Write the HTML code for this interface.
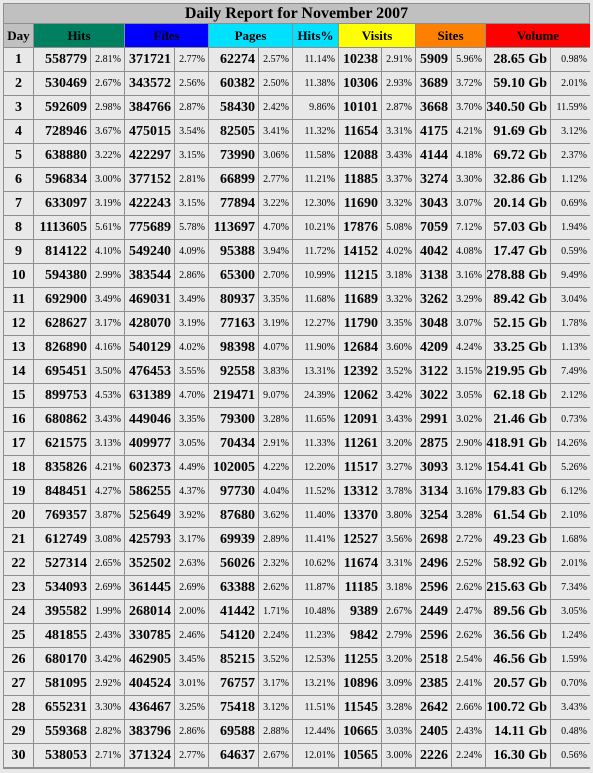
<!DOCTYPE html>
<html><head><meta charset="utf-8">
<style>
html,body{margin:0;padding:0;background:#e8e8e8;}
#wrap{position:relative;width:593px;height:773px;overflow:hidden;font-family:"Liberation Serif",serif;}
#grid{position:absolute;left:3px;top:3px;width:587px;height:766px;background:#8e8e8e;}
.c{position:absolute;box-sizing:border-box;background:#e8e8e8;color:#000;white-space:nowrap;overflow:hidden;}
.n{font-weight:bold;font-size:14px;text-align:right;padding-right:3px;}
.p{font-size:10px;text-align:right;padding-right:3px;}
.d{font-weight:bold;font-size:14px;text-align:center;}
.h{font-weight:bold;font-size:13px;text-align:center;}
</style></head><body>
<div id="wrap">
<div id="grid"></div>
</div>
<script>
const hits=[558779,530469,592609,728946,638880,596834,633097,1113605,814122,594380,692900,628627,826890,695451,899753,680862,621575,835826,848451,769357,612749,527314,534093,395582,481855,680170,581095,655231,559368,538053];
const hitsPct=["2.81%","2.67%","2.98%","3.67%","3.22%","3.00%","3.19%","5.61%","4.10%","2.99%","3.49%","3.17%","4.16%","3.50%","4.53%","3.43%","3.13%","4.21%","4.27%","3.87%","3.08%","2.65%","2.69%","1.99%","2.43%","3.42%","2.92%","3.30%","2.82%","2.71%"];
const files=[371721,343572,384766,475015,422297,377152,422243,775689,549240,383544,469031,428070,540129,476453,631389,449046,409977,602373,586255,525649,425793,352502,361445,268014,330785,462905,404524,436467,383796,371324];
const filesPct=["2.77%","2.56%","2.87%","3.54%","3.15%","2.81%","3.15%","5.78%","4.09%","2.86%","3.49%","3.19%","4.02%","3.55%","4.70%","3.35%","3.05%","4.49%","4.37%","3.92%","3.17%","2.63%","2.69%","2.00%","2.46%","3.45%","3.01%","3.25%","2.86%","2.77%"];
const pages=[62274,60382,58430,82505,73990,66899,77894,113697,95388,65300,80937,77163,98398,92558,219471,79300,70434,102005,97730,87680,69939,56026,63388,41442,54120,85215,76757,75418,69588,64637];
const pagesPct=["2.57%","2.50%","2.42%","3.41%","3.06%","2.77%","3.22%","4.70%","3.94%","2.70%","3.35%","3.19%","4.07%","3.83%","9.07%","3.28%","2.91%","4.22%","4.04%","3.62%","2.89%","2.32%","2.62%","1.71%","2.24%","3.52%","3.17%","3.12%","2.88%","2.67%"];
const hitsPerc=["11.14%","11.38%","9.86%","11.32%","11.58%","11.21%","12.30%","10.21%","11.72%","10.99%","11.68%","12.27%","11.90%","13.31%","24.39%","11.65%","11.33%","12.20%","11.52%","11.40%","11.41%","10.62%","11.87%","10.48%","11.23%","12.53%","13.21%","11.51%","12.44%","12.01%"];
const visits=[10238,10306,10101,11654,12088,11885,11690,17876,14152,11215,11689,11790,12684,12392,12062,12091,11261,11517,13312,13370,12527,11674,11185,9389,9842,11255,10896,11545,10665,10565];
const visitsPct=["2.91%","2.93%","2.87%","3.31%","3.43%","3.37%","3.32%","5.08%","4.02%","3.18%","3.32%","3.35%","3.60%","3.52%","3.42%","3.43%","3.20%","3.27%","3.78%","3.80%","3.56%","3.31%","3.18%","2.67%","2.79%","3.20%","3.09%","3.28%","3.03%","3.00%"];
const sites=[5909,3689,3668,4175,4144,3274,3043,7059,4042,3138,3262,3048,4209,3122,3022,2991,2875,3093,3134,3254,2698,2496,2596,2449,2596,2518,2385,2642,2405,2226];
const sitesPct=["5.96%","3.72%","3.70%","4.21%","4.18%","3.30%","3.07%","7.12%","4.08%","3.16%","3.29%","3.07%","4.24%","3.15%","3.05%","3.02%","2.90%","3.12%","3.16%","3.28%","2.72%","2.52%","2.62%","2.47%","2.62%","2.54%","2.41%","2.66%","2.43%","2.24%"];
const volume=["28.65 Gb","59.10 Gb","340.50 Gb","91.69 Gb","69.72 Gb","32.86 Gb","20.14 Gb","57.03 Gb","17.47 Gb","278.88 Gb","89.42 Gb","52.15 Gb","33.25 Gb","219.95 Gb","62.18 Gb","21.46 Gb","418.91 Gb","154.41 Gb","179.83 Gb","61.54 Gb","49.23 Gb","58.92 Gb","215.63 Gb","89.56 Gb","36.56 Gb","46.56 Gb","20.57 Gb","100.72 Gb","14.11 Gb","16.30 Gb"];
const volumePct=["0.98%","2.01%","11.59%","3.12%","2.37%","1.12%","0.69%","1.94%","0.59%","9.49%","3.04%","1.78%","1.13%","7.49%","2.12%","0.73%","14.26%","5.26%","6.12%","2.10%","1.68%","2.01%","7.34%","3.05%","1.24%","1.59%","0.70%","3.43%","0.48%","0.56%"];
const headers=["Day","Hits","Files","Pages","Hits%","Visits","Sites","Volume"];
const headColors=["#c0c0c0","#008060","#0000ff","#00e0ff","#00e0ff","#ffff00","#ff8000","#ff0000"];

const g=document.getElementById('grid');
const xs=[0,30,87,121,171,205,255,289,335,378,412,448,482,547,587];
function cell(x0,x1,y0,y1,cls,txt,bg,name){
  const d=document.createElement('div');
  d.className='c '+cls;
  d.style.left=(x0+1)+'px';d.style.top=(y0+1)+'px';
  d.style.width=(x1-x0-1)+'px';d.style.height=(y1-y0-1)+'px';
  d.style.lineHeight=(y1-y0-1)+'px';
  if(bg)d.style.background=bg;
  d.textContent=txt;
  
  
  g.appendChild(d);
}
cell(0,586,0,20,'h','Daily Report for November 2007','#c0c0c0','table-title');
g.lastChild.style.fontSize='16px';
const hspans=[[0,1],[1,3],[3,5],[5,7],[7,8],[8,10],[10,12],[12,14]];
hspans.forEach((s,i)=>cell(xs[s[0]],xs[s[1]],20,44,'h',headers[i],headColors[i],'header-'+headers[i].toLowerCase().replace('%','-pct')));
for(let r=0;r<30;r++){
  const y0=44+r*24,y1=y0+24;
  const vals=[[String(r+1),'d'],[hits[r],'n'],[hitsPct[r],'p'],[files[r],'n'],[filesPct[r],'p'],[pages[r],'n'],[pagesPct[r],'p'],[hitsPerc[r],'p'],[visits[r],'n'],[visitsPct[r],'p'],[sites[r],'n'],[sitesPct[r],'p'],[volume[r],'n'],[volumePct[r],'p']];
  const names=['day','hits','hits-pct','files','files-pct','pages','pages-pct','hits-share','visits','visits-pct','sites','sites-pct','volume','volume-pct'];
  vals.forEach((v,c)=>cell(xs[c],xs[c+1],y0,y1,v[1],String(v[0]),null,names[c]+'-day-'+(r+1)));
}
</script>
</body></html>
